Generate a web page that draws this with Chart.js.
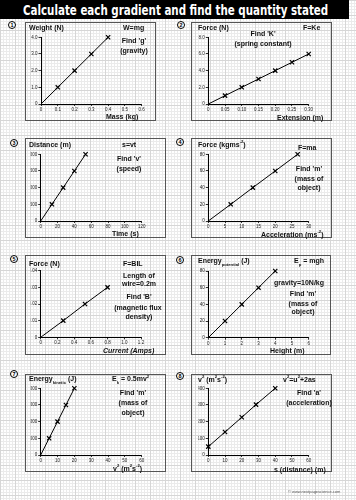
<!DOCTYPE html>
<html>
<head>
<meta charset="utf-8">
<script src="https://cdn.jsdelivr.net/npm/chart.js@4.4.1/dist/chart.umd.min.js"></script>
<style>
  html, body { margin:0; padding:0; }
  body {
    width:356px; height:500px; position:relative; overflow:hidden;
    background-color:#fff;
    background-image:
      linear-gradient(#d6d6d6 1px, transparent 1px),
      linear-gradient(90deg, #d6d6d6 1px, transparent 1px),
      linear-gradient(#ebebeb 1px, transparent 1px),
      linear-gradient(90deg, #ebebeb 1px, transparent 1px);
    background-size: 15px 15px, 15px 15px, 3px 3px, 3px 3px;
    font-family: "Liberation Sans", Arial, sans-serif;
  }
  .bar { position:absolute; left:0; top:0; width:349px; height:19px; background:#000; }
  .title { position:absolute; left:23px; top:9.5px; color:#fff; font-weight:bold; font-size:14px;
           font-family:"DejaVu Sans", sans-serif; white-space:nowrap; transform-origin:0 50%; line-height:1; }
  .box { position:absolute; box-sizing:border-box; border:1px solid #555; }
  .num { position:absolute; width:8px; height:8px; box-sizing:border-box; border:1px solid #000; border-radius:50%;
         font-size:5.5px; font-weight:bold; line-height:6px; text-align:center; transform:translate(-50%,-50%); background:#fff; }
  .t { position:absolute; white-space:nowrap; font-weight:bold; font-size:7px; line-height:1; color:#111; }
  .t sup, .t sub { font-size:60%; line-height:0; }
  .copy { position:absolute; white-space:nowrap; font-size:4px; color:#555; line-height:1; transform:translateY(-50%); }
</style>
</head>
<body>
<div class="bar"></div>
<div class="title" id="title">Calculate each gradient and find the quantity stated</div>
<script>
// ---------- DATA ----------
// 1: Weight vs Mass
const p1Mass   = [0, 0.1, 0.2, 0.3, 0.4];
const p1Weight = [0, 1.0, 2.0, 3.0, 4.0];
const p1XTicks = ['0','0.1','0.2','0.3','0.4','0.5','0.6'];
const p1YTicks = ['0','1.0','2.0','3.0','4.0'];
// 2: Force vs Extension
const p2Ext    = [0, 0.05, 0.10, 0.15, 0.20, 0.25, 0.30];
const p2Force  = [0, 1, 2, 3, 4, 5, 6];
const p2XTicks = ['0','0.05','0.10','0.15','0.20','0.25','0.30'];
const p2YTicks = ['0','2.0','4.0','6.0','8.0'];
// 3: Distance vs Time
const p3Time   = [0, 13.3, 26.7, 40, 53.3];
const p3Dist   = [0, 500, 1000, 1500, 2000];
const p3XTicks = ['0','20','40','60','80','100','120'];
const p3YTicks = ['0','500','1000','1500','2000'];
// 4: Force vs Acceleration
const p4Acc    = [0, 6.7, 13.3, 20, 26.7];
const p4Force  = [0, 20, 40, 60, 80];
const p4XTicks = ['0','5','10','15','20','25','30'];
const p4YTicks = ['0','20','40','60','80'];
// 5: Force vs Current
const p5Cur    = [0, 0.27, 0.53, 0.8];
const p5Force  = [0, 0.01, 0.02, 0.03];
const p5XTicks = ['0','0.2','0.4','0.6','0.8','1.0','1.2'];
const p5YTicks = ['0','0.01','0.02','0.03','0.04'];
// 6: Potential energy vs Height
const p6Height = [0, 1, 2, 3, 4];
const p6Ep     = [0, 20, 40, 60, 80];
const p6XTicks = ['0','1','2','3','4','5','6'];
const p6YTicks = ['0','20','40','60','80'];
// 7: Kinetic energy vs v^2
const p7V2     = [0, 5, 10, 15, 20];
const p7Ek     = [0, 25000, 50000, 75000, 100000];
const p7XTicks = ['0','10','20','30','40','50','60'];
const p7YTicks = ['0','25000','50000','75000','100000'];
// 8: v^2 vs distance
const p8S      = [0, 10, 20, 28.5, 40];
const p8V2     = [50, 138, 226, 302, 400];
const p8XTicks = ['0','10','20','30','40','50','60'];
const p8YTicks = ['0','100','200','300','400'];

// ---------- LAYOUT ----------
const tEl = document.getElementById('title');
tEl.style.transform = 'translateY(-50%) scaleX(' + (305 / tEl.offsetWidth) + ')';

function addBox(b, n, cx, cy) {
  const d = document.createElement('div');
  d.className = 'box';
  d.style.left = b.l + 'px'; d.style.top = b.t + 'px';
  d.style.width = (b.r - b.l) + 'px'; d.style.height = (b.b - b.t) + 'px';
  document.body.appendChild(d);
  const c = document.createElement('div');
  c.className = 'num'; c.textContent = n;
  c.style.left = cx + 'px'; c.style.top = cy + 'px';
  document.body.appendChild(c);
}
function T(x, y, html, align, extra) {
  const d = document.createElement('div');
  d.className = 't';
  d.innerHTML = html;
  d.style.left = x + 'px'; d.style.top = y + 'px';
  d.style.transform = (align === 'c' ? 'translate(-50%,-50%)' : 'translateY(-50%)');
  if (extra) Object.assign(d.style, extra);
  document.body.appendChild(d);
}

function makeChart(box, ax, xs, ys, xTicks, yTicks, startMarker) {
  const c = document.createElement('canvas');
  const w = box.r - box.l, h = box.b - box.t;
  c.width = w; c.height = h;
  c.style.cssText = 'position:absolute;left:' + box.l + 'px;top:' + box.t + 'px;width:' + w + 'px;height:' + h + 'px';
  document.body.appendChild(c);
  const WY = 10, HX = 8;
  const xv = xTicks.map(parseFloat), yv = yTicks.map(parseFloat);
  const tickFont = { size: 4.5, family: 'Liberation Sans' };
  new Chart(c, {
    type: 'scatter',
    data: { datasets: [{
      data: xs.map((x, i) => ({ x: x, y: ys[i] })),
      showLine: true, borderColor: '#000', borderWidth: 1, tension: 0,
      pointStyle: 'crossRot',
      pointRadius: ctx => (ctx.dataIndex === 0 && !startMarker) ? 0 : 3,
      pointBorderWidth: 1.2, pointBorderColor: '#000', pointBackgroundColor: '#000',
      clip: false
    }]},
    options: {
      responsive: false, animation: false, devicePixelRatio: 1, events: [],
      layout: { padding: { left: ax.x0 - box.l - WY, right: box.r - ax.x1, top: ax.y1 - box.t, bottom: box.b - ax.y0 - HX } },
      plugins: { legend: { display: false }, tooltip: { enabled: false } },
      scales: {
        x: {
          type: 'linear', min: xv[0], max: xv[xv.length - 1],
          afterFit: s => { s.height = HX; },
          afterBuildTicks: s => { s.ticks = xv.map(v => ({ value: v })); },
          ticks: { callback: (v, i) => xTicks[i], font: tickFont, color: '#222', padding: 1, maxRotation: 0, autoSkip: false },
          grid: { drawOnChartArea: false, drawTicks: true, tickLength: 2, color: '#000', lineWidth: 0.8 },
          border: { display: true, color: '#000', width: 1 }
        },
        y: {
          type: 'linear', min: yv[0], max: yv[yv.length - 1],
          afterFit: s => { s.width = WY; },
          afterBuildTicks: s => { s.ticks = yv.map(v => ({ value: v })); },
          ticks: { callback: (v, i) => yTicks[i], font: tickFont, color: '#222', padding: 1, autoSkip: false },
          grid: { drawOnChartArea: false, drawTicks: true, tickLength: 2.5, color: '#000', lineWidth: 0.8 },
          border: { display: true, color: '#000', width: 1 }
        }
      }
    }
  });
}

const B1 = {l:25, t:22, r:156, b:121},  A1 = {x0:41, x1:141.7, y0:104, y1:37.3};
const B2 = {l:191, t:22, r:332, b:121}, A2 = {x0:208.3, x1:308.7, y0:104, y1:37.3};
const B3 = {l:25, t:138, r:166, b:238}, A3 = {x0:40.7, x1:141.7, y0:221, y1:154.3};
const B4 = {l:191, t:138, r:332, b:238},A4 = {x0:208.3, x1:308.7, y0:221, y1:154.3};
const B5 = {l:25, t:255, r:166, b:355}, A5 = {x0:40.7, x1:141, y0:337.3, y1:270.7};
const B6 = {l:191, t:255, r:331, b:355},A6 = {x0:208.3, x1:308.7, y0:337.7, y1:271};
const B7 = {l:25, t:374, r:166, b:472}, A7 = {x0:40.7, x1:141.7, y0:455, y1:388.3};
const B8 = {l:191, t:374, r:332, b:472},A8 = {x0:208.3, x1:308.7, y0:455, y1:388.3};

addBox(B1, '1', 12, 25);  addBox(B2, '2', 181, 25);
addBox(B3, '3', 14, 143); addBox(B4, '4', 180, 142);
addBox(B5, '5', 14, 259); addBox(B6, '6', 180, 260);
addBox(B7, '7', 14, 374); addBox(B8, '8', 180, 376);

makeChart(B1, A1, p1Mass, p1Weight, p1XTicks, p1YTicks, false);
makeChart(B2, A2, p2Ext, p2Force, p2XTicks, p2YTicks, false);
makeChart(B3, A3, p3Time, p3Dist, p3XTicks, p3YTicks, false);
makeChart(B4, A4, p4Acc, p4Force, p4XTicks, p4YTicks, false);
makeChart(B5, A5, p5Cur, p5Force, p5XTicks, p5YTicks, false);
makeChart(B6, A6, p6Height, p6Ep, p6XTicks, p6YTicks, false);
makeChart(B7, A7, p7V2, p7Ek, p7XTicks, p7YTicks, false);
makeChart(B8, A8, p8S, p8V2, p8XTicks, p8YTicks, true);

// ---------- TEXT ----------
T(29, 27, 'Weight (N)'); T(123, 27, 'W=mg');
T(134, 40, "Find 'g'", 'c'); T(134, 50, '(gravity)', 'c');
T(106, 116, 'Mass (kg)');

T(198, 27, 'Force (N)'); T(303, 27, 'F=Ke');
T(263, 33, "Find 'K'", 'c'); T(263, 43, '(spring constant)', 'c');
T(277, 117, 'Extension (m)');

T(29, 144, 'Distance (m)'); T(122, 144, 's=vt');
T(129, 157.5, "Find 'v'", 'c'); T(129, 167.5, '(speed)', 'c');
T(112, 233, 'Time (s)');

T(198, 144, 'Force (kgms<sup>-2</sup>)'); T(298, 146.5, 'F=ma');
T(309, 168, "Find 'm'", 'c'); T(309, 177.5, '(mass of', 'c'); T(309, 186.5, 'object)', 'c');
T(261, 234, 'Acceleration (ms<sup>-2</sup>)');

T(29, 263, 'Force (N)'); T(123, 263, 'F=BIL');
T(139, 275, 'Length of', 'c'); T(139, 282.5, 'wire=0.2m', 'c');
T(139, 295.5, "Find 'B'", 'c'); T(138, 306.5, '(magnetic flux', 'c'); T(139, 315.5, 'density)', 'c');
T(103, 350, '<i>Current (Amps)</i>');

T(198, 260.5, 'Energy<sub>potential</sub> (J)'); T(294, 260.5, 'E<sub>p</sub> = mgh');
T(299, 281.5, 'gravity=10N/kg', 'c');
T(303, 293, "Find 'm'", 'c'); T(303, 302.5, '(mass of', 'c'); T(303, 311, 'object)', 'c');
T(270, 350, 'Height (m)');

T(29, 379, 'Energy<sub>kinetic</sub> (J)'); T(112, 379, 'E<sub>k</sub> = 0.5mv<sup>2</sup>');
T(133, 391.5, "Find 'm'", 'c'); T(133, 402, '(mass of', 'c'); T(133, 411.5, 'object)', 'c');
T(113, 468, 'v<sup>2</sup> (m<sup>2</sup>s<sup>-2</sup>)');

T(198, 379, 'v<sup>2</sup> (m<sup>2</sup>s<sup>-2</sup>)'); T(283, 379, 'v<sup>2</sup>=u<sup>2</sup>+2as');
T(309, 391.5, "Find 'a'", 'c'); T(309, 401.5, '(acceleration)', 'c');
T(274, 469, 's (distance) (m)');

const cp = document.createElement('div');
cp.className = 'copy';
cp.style.left = '288px'; cp.style.top = '492px';
cp.textContent = '\u00A9 www.nextpagescience.com';
document.body.appendChild(cp);
</script>
</body>
</html>
